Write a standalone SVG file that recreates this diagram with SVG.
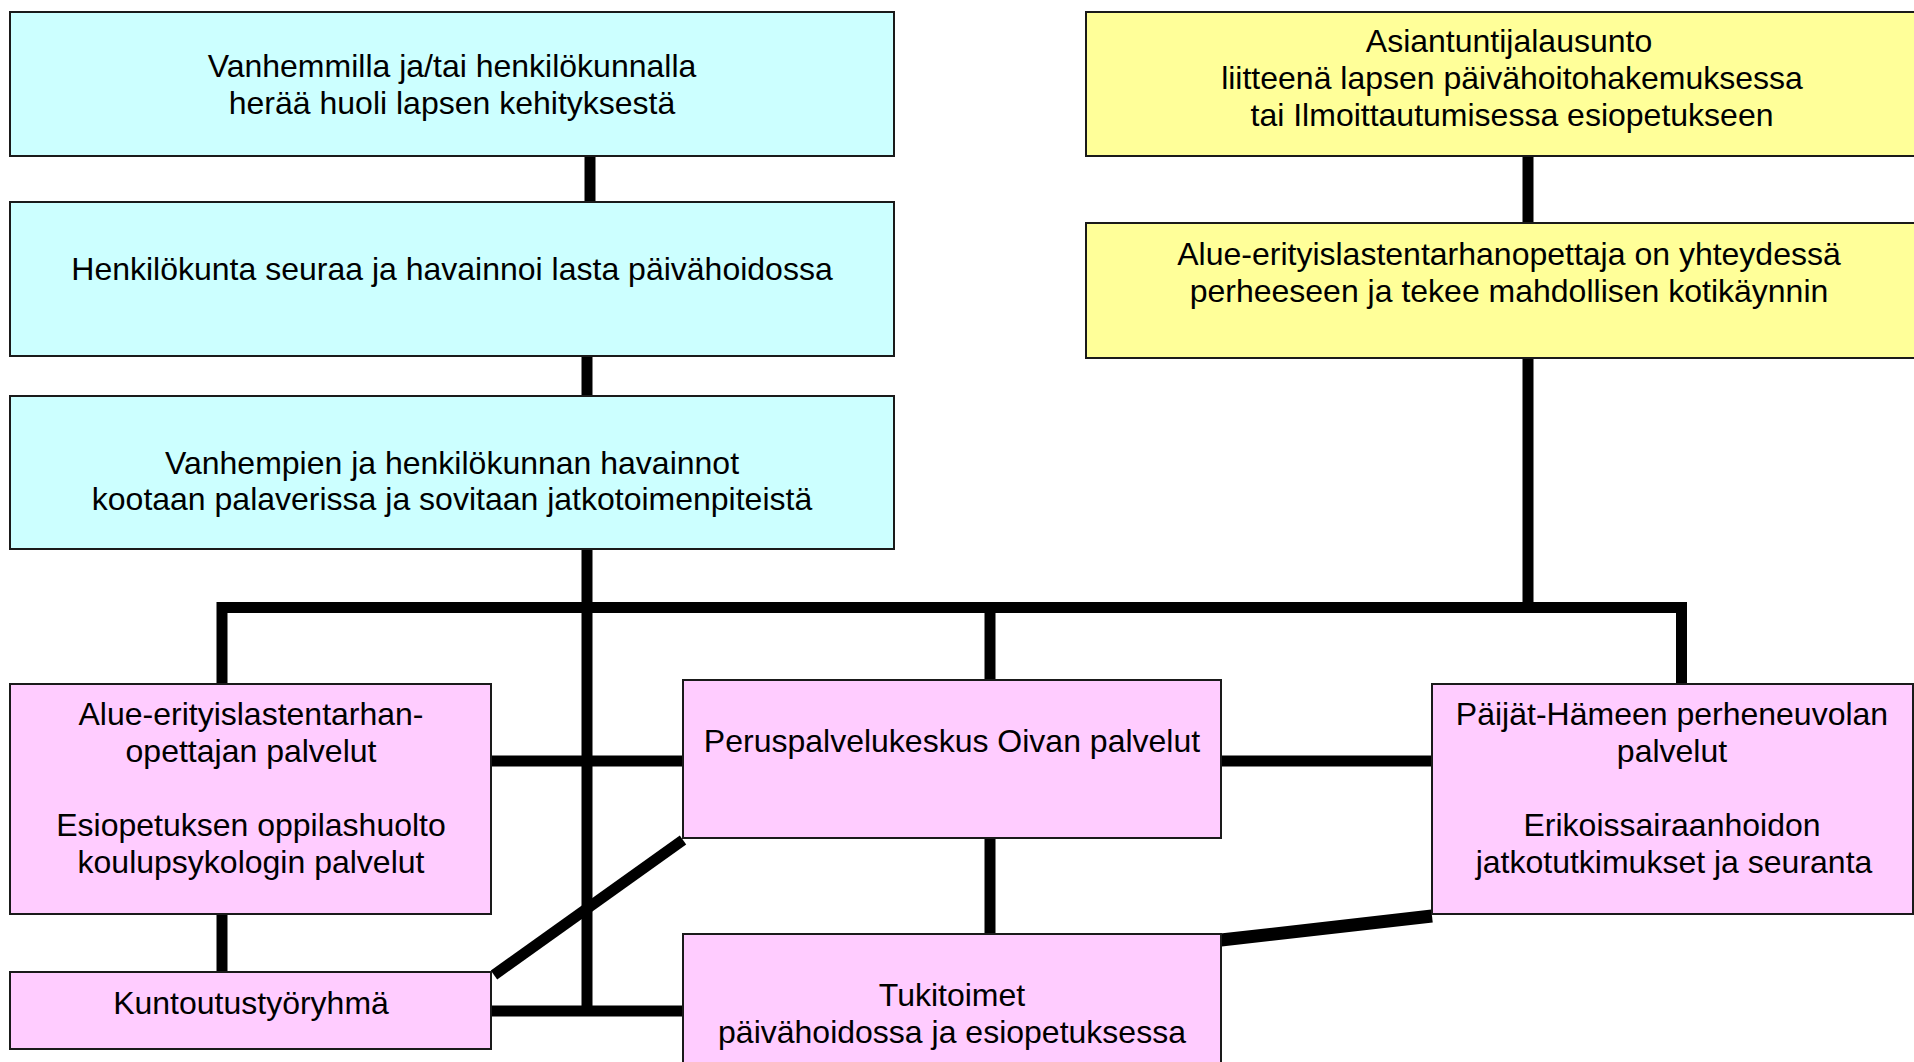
<svg xmlns="http://www.w3.org/2000/svg" width="1914" height="1062" viewBox="0 0 1914 1062">
<style>
.box{stroke:#1a1a1a;stroke-width:2}
.cy{fill:#CCFFFF}
.ye{fill:#FFFF99}
.pk{fill:#FFCCFF}
.t{font-family:"Liberation Sans",Arial,sans-serif;font-size:32px;fill:#000;text-anchor:middle}
.c{stroke:#000;stroke-width:11;fill:none;stroke-linejoin:miter}
</style>
<rect x="0" y="0" width="1914" height="1062" fill="#fff"/>
<g id="connectors">
<line class="c" x1="590" y1="156" x2="590" y2="203"/>
<line class="c" x1="587" y1="356" x2="587" y2="397"/>
<line class="c" x1="587" y1="549" x2="587" y2="1016"/>
<line class="c" x1="1528" y1="156" x2="1528" y2="224"/>
<line class="c" x1="1528" y1="358" x2="1528" y2="608"/>
<polyline class="c" points="222,684 222,607.5 1681.5,607.5 1681.5,685"/>
<line class="c" x1="990" y1="607" x2="990" y2="681"/>
<line class="c" x1="491" y1="761" x2="684" y2="761"/>
<line class="c" x1="1221" y1="761" x2="1433" y2="761"/>
<line class="c" x1="990" y1="838" x2="990" y2="935"/>
<line class="c" x1="222" y1="914" x2="222" y2="973"/>
<line class="c" x1="491" y1="1011" x2="684" y2="1011"/>
<line class="c" x1="683" y1="840" x2="494" y2="975"/>
<line class="c" style="stroke-width:13" x1="1221" y1="940" x2="1432" y2="916"/>
</g>
<g id="n1"><rect class="box cy" x="10" y="12" width="884" height="144"/>
<text class="t" x="452" y="77">Vanhemmilla ja/tai henkilökunnalla</text>
<text class="t" x="452" y="114">herää huoli lapsen kehityksestä</text></g>
<g id="n2"><rect class="box cy" x="10" y="202" width="884" height="154"/>
<text class="t" x="452" y="280">Henkilökunta seuraa ja havainnoi lasta päivähoidossa</text></g>
<g id="n3"><rect class="box cy" x="10" y="396" width="884" height="153"/>
<text class="t" x="452" y="474">Vanhempien ja henkilökunnan havainnot</text>
<text class="t" x="452" y="510">kootaan palaverissa ja sovitaan jatkotoimenpiteistä</text></g>
<g id="y1"><rect class="box ye" x="1086" y="12" width="850" height="144"/>
<text class="t" x="1509" y="52">Asiantuntijalausunto</text>
<text class="t" x="1512" y="89">liitteenä lapsen päivähoitohakemuksessa</text>
<text class="t" x="1512" y="126">tai Ilmoittautumisessa esiopetukseen</text></g>
<g id="y2"><rect class="box ye" x="1086" y="223" width="850" height="135"/>
<text class="t" x="1509" y="265">Alue-erityislastentarhanopettaja on yhteydessä</text>
<text class="t" x="1509" y="302">perheeseen ja tekee mahdollisen kotikäynnin</text></g>
<g id="p1"><rect class="box pk" x="10" y="684" width="481" height="230"/>
<text class="t" x="251" y="725">Alue-erityislastentarhan-</text>
<text class="t" x="251" y="762">opettajan palvelut</text>
<text class="t" x="251" y="836">Esiopetuksen oppilashuolto</text>
<text class="t" x="251" y="873">koulupsykologin palvelut</text></g>
<g id="p2"><rect class="box pk" x="683" y="680" width="538" height="158"/>
<text class="t" x="952" y="752">Peruspalvelukeskus Oivan palvelut</text></g>
<g id="p3"><rect class="box pk" x="1432" y="684" width="481" height="230"/>
<text class="t" x="1672" y="725">Päijät-Hämeen perheneuvolan</text>
<text class="t" x="1672" y="762">palvelut</text>
<text class="t" x="1672" y="836">Erikoissairaanhoidon</text>
<text class="t" x="1674" y="873">jatkotutkimukset ja seuranta</text></g>
<g id="k"><rect class="box pk" x="10" y="972" width="481" height="77"/>
<text class="t" x="251" y="1014">Kuntoutustyöryhmä</text></g>
<g id="tk"><rect class="box pk" x="683" y="934" width="538" height="140"/>
<text class="t" x="952" y="1006">Tukitoimet</text>
<text class="t" x="952" y="1043">päivähoidossa ja esiopetuksessa</text></g>
</svg>
